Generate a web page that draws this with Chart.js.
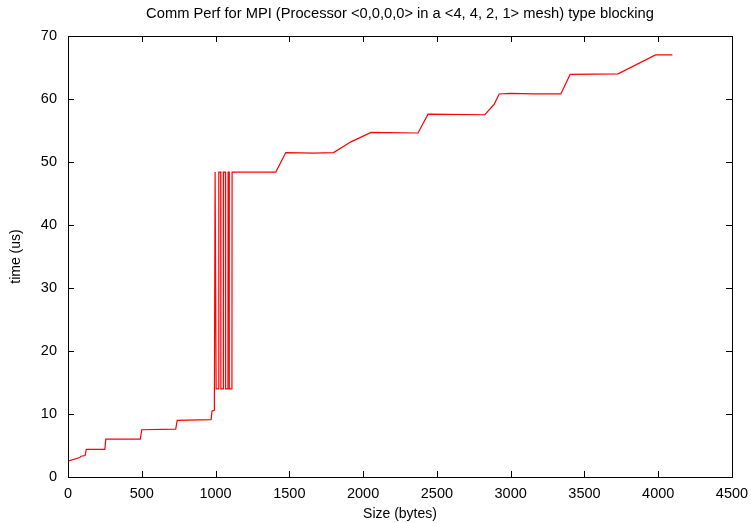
<!DOCTYPE html>
<html>
<head>
<meta charset="utf-8">
<script src="https://cdn.jsdelivr.net/npm/chart.js@4.4.1/dist/chart.umd.min.js"></script>
<style>
  html, body { margin: 0; padding: 0; background: #fff; }
  #wrap { width: 751px; height: 523px; }
</style>
</head>
<body>
<div id="wrap"><canvas id="perfChart"></canvas></div>
<script>
// message size (bytes) and time (us)
const sizes = [0, 80, 88, 116, 124, 250, 256, 490, 500, 730, 740, 970, 976, 992,
  997, 1003, 1004, 1021, 1022, 1035, 1036, 1052, 1053, 1067, 1068, 1084, 1085, 1092, 1093, 1111, 1112, 1121,
  1408, 1476, 1667, 1800, 1918, 2054, 2372, 2440, 2825, 2889, 2922, 3000, 3150, 3340, 3403, 3728, 3982, 4096];
const times = [2.5, 3.1, 3.3, 3.4, 4.4, 4.4, 6.0, 6.0, 7.5, 7.6, 9.0, 9.1, 10.5, 10.6,
  48.4, 48.4, 14.0, 14.0, 48.4, 48.4, 14.0, 14.0, 48.4, 48.4, 14.0, 14.0, 48.4, 48.4, 14.0, 14.0, 48.4, 48.4,
  48.4, 51.5, 51.4, 51.5, 53.2, 54.7, 54.6, 57.6, 57.5, 59.2, 60.8, 60.9, 60.8, 60.8, 63.9, 64.0, 67.0, 67.0];
const xTicks = [0, 500, 1000, 1500, 2000, 2500, 3000, 3500, 4000, 4500];
const yTicks = [0, 10, 20, 30, 40, 50, 60, 70];
const chartTitle = "Comm Perf for MPI (Processor <0,0,0,0> in a <4, 4, 2, 1> mesh) type blocking";

const points = sizes.map((s, i) => ({ x: s, y: times[i] }));
const family = "'Liberation Sans', Arial, sans-serif";
const tickFont = { family, size: 14.5 };
const labelFont = { family, size: 14 };

// gnuplot style frame with inward ticks on every side, title centred over the plot
const framePlugin = {
  id: "frame",
  afterDraw(chart) {
    const { ctx, chartArea: a, scales } = chart;
    ctx.save();
    ctx.strokeStyle = "#000";
    ctx.lineWidth = 1;
    ctx.beginPath();
    xTicks.forEach(v => {
      const px = Math.round(scales.x.getPixelForValue(v)) + 0.5;
      ctx.moveTo(px, a.bottom); ctx.lineTo(px, a.bottom - 6);
      ctx.moveTo(px, a.top); ctx.lineTo(px, a.top + 6);
    });
    yTicks.forEach(v => {
      const py = Math.round(scales.y.getPixelForValue(v)) + 0.5;
      ctx.moveTo(a.left, py); ctx.lineTo(a.left + 6, py);
      ctx.moveTo(a.right, py); ctx.lineTo(a.right - 6, py);
    });
    ctx.stroke();
    ctx.strokeRect(Math.round(a.left) + 0.5, Math.round(a.top) + 0.5,
      Math.round(a.right - a.left), Math.round(a.bottom - a.top));

    ctx.fillStyle = "#000";
    ctx.font = "14.7px " + family;
    ctx.textAlign = "center";
    ctx.textBaseline = "middle";
    ctx.fillText(chartTitle, (a.left + a.right) / 2, 14);
    ctx.restore();
  }
};

new Chart(document.getElementById("perfChart"), {
  type: "scatter",
  data: {
    datasets: [{
      data: points,
      showLine: true,
      borderColor: "#ff0000",
      backgroundColor: "#ff0000",
      borderWidth: 1.2,
      pointRadius: 0,
      tension: 0
    }]
  },
  options: {
    responsive: true,
    maintainAspectRatio: false,
    animation: false,
    layout: { padding: { top: 36, right: 19, left: 0, bottom: 0 } },
    plugins: {
      legend: { display: false },
      tooltip: { enabled: false },
      title: { display: false }
    },
    scales: {
      x: {
        type: "linear",
        min: 0,
        max: 4500,
        afterFit: s => { s.height = 46; s.paddingLeft = 0; s.paddingRight = 0; },
        afterBuildTicks: s => { s.ticks = xTicks.map(v => ({ value: v })); },
        grid: { display: false, drawTicks: false },
        border: { display: false },
        ticks: { color: "#000", font: tickFont, padding: 8, maxRotation: 0, callback: v => String(v) },
        title: { display: true, text: "Size (bytes)", color: "#000", font: labelFont, padding: { top: 0, bottom: 0 } }
      },
      y: {
        type: "linear",
        min: 0,
        max: 70,
        afterFit: s => { s.width = 68; s.paddingTop = 0; s.paddingBottom = 0; },
        afterBuildTicks: s => { s.ticks = yTicks.map(v => ({ value: v })); },
        grid: { display: false, drawTicks: false },
        border: { display: false },
        ticks: { color: "#000", font: tickFont, padding: 11, callback: v => String(v) },
        title: { display: true, text: "time (us)", color: "#000", font: labelFont, padding: { top: 8, bottom: 0 } }
      }
    }
  },
  plugins: [framePlugin]
});
</script>
</body>
</html>
